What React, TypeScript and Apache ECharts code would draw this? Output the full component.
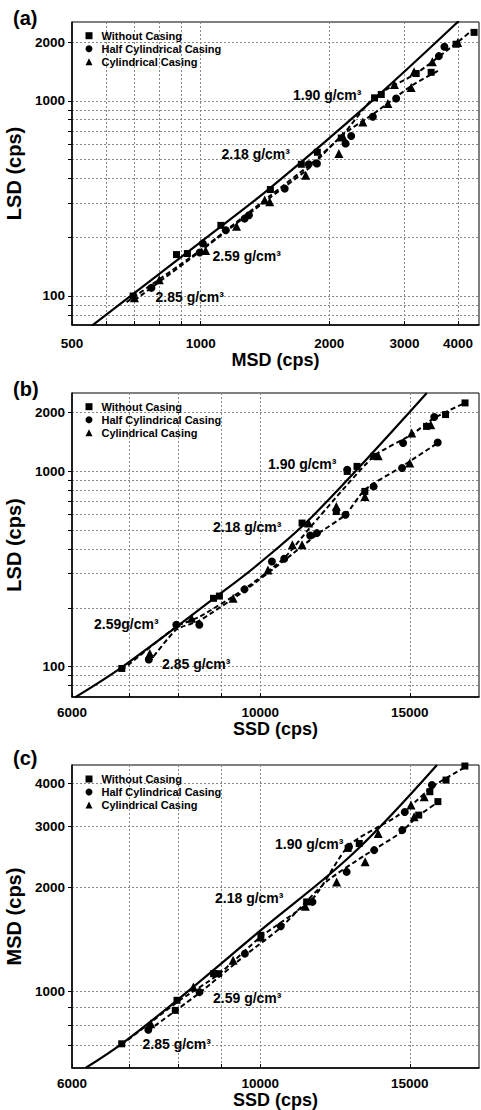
import React, { useEffect, useRef } from "react";
import * as echarts from "echarts";

type Pt = [number, number];

// ---------- Panel (a): LSD vs MSD ----------
const A_WITHOUT: Pt[] = [[695, 100], [878, 163], [931, 165], [1115, 230], [1456, 351], [1720, 473], [1875, 545], [2133, 645], [2552, 1036], [2646, 1078], [3194, 1380], [3462, 1400], [3960, 1950], [4363, 2243]];
const A_HALF: Pt[] = [[767, 110], [995, 167], [1012, 186], [1145, 217], [1267, 249], [1297, 259], [1573, 355], [1790, 473], [1871, 477], [2183, 605], [2250, 660], [2529, 828], [2867, 1028], [3609, 1695], [3718, 1892]];
const A_CYL: Pt[] = [[700, 98], [800, 121], [1027, 171], [1213, 228], [1412, 310], [1451, 304], [1761, 416], [2106, 537], [2150, 660], [2396, 780], [2742, 970], [2840, 1214], [3108, 1171], [3158, 1408], [3484, 1585], [3995, 1992]];
const A_SOLID: Pt[] = [[556, 70.3], [1000, 189], [1451, 356], [2529, 1008], [4017, 2563]];
const A_DASH_UP: Pt[] = [[671, 93], [1000, 172], [1450, 325], [1800, 470], [2150, 670], [2552, 1048], [3195, 1382], [3960, 1970], [4325, 2305]];
const A_DASH_LOW: Pt[] = [[700, 95], [1000, 170], [1450, 318], [1800, 455], [2150, 670], [2552, 865], [3130, 1204], [3622, 1437]];
const A_X_LABELS = [500, 1000, 2000, 3000, 4000];
const A_X_GRID = [500, 600, 700, 800, 900, 1000, 2000, 3000, 4000];
const A_Y_LABELS = [100, 1000, 2000];
const A_Y_GRID = [80, 90, 100, 200, 300, 400, 500, 600, 700, 800, 900, 1000, 2000];

// ---------- Panel (b): LSD vs SSD ----------
const B_WITHOUT: Pt[] = [[6868, 98], [8808, 224], [8950, 230], [11200, 544], [12290, 623], [12660, 1000], [13000, 1061], [13280, 790], [13600, 1194], [15700, 1700], [16530, 1954], [17427, 2242]];
const B_HALF: Pt[] = [[7390, 109], [7962, 164], [8475, 164], [9580, 249], [10320, 346], [10670, 357], [11450, 470], [11660, 483], [12600, 600], [12660, 1020], [13600, 838], [14690, 1041], [14730, 1398], [16030, 1900], [16180, 1405]];
const B_CYL: Pt[] = [[7410, 117], [8300, 177], [9290, 224], [10210, 313], [10910, 421], [11200, 421], [11400, 544], [12290, 661], [13280, 745], [13770, 1203], [15000, 1104], [15080, 1573], [15880, 1735]];
const B_SOLID: Pt[] = [[6049, 69.7], [6899, 100.8], [8929, 233], [9978, 339], [11516, 588], [15710, 2523]];
const B_DASH_UP: Pt[] = [[6868, 96], [7962, 160], [8475, 180], [9580, 250], [10670, 360], [11470, 522], [13600, 1194], [15080, 1543], [16030, 1878], [17427, 2242]];
const B_DASH_LOW: Pt[] = [[7390, 105], [7962, 155], [8475, 172], [9580, 245], [10670, 350], [11723, 483], [12600, 600], [13280, 806], [14690, 1061], [16180, 1398]];
const B_X_LABELS = [6000, 10000, 15000];
const B_X_GRID = [6000, 7000, 8000, 9000, 10000, 15000];
const B_Y_LABELS = [100, 1000, 2000];
const B_Y_GRID = [80, 90, 100, 200, 300, 400, 500, 600, 700, 800, 900, 1000, 2000];

// ---------- Panel (c): MSD vs SSD ----------
const C_WITHOUT: Pt[] = [[6866, 705], [7940, 881], [7977, 942], [8810, 1125], [8930, 1125], [10016, 1453], [11340, 1815], [12690, 2592], [13080, 2679], [15370, 3237], [15840, 3782], [16190, 3541], [16550, 4088], [17420, 4489]];
const C_HALF: Pt[] = [[7380, 774], [8480, 995], [9590, 1286], [10570, 1543], [11520, 1815], [12640, 2217], [12720, 2620], [13620, 2563], [14700, 2929], [14800, 3306], [15930, 3955]];
const C_CYL: Pt[] = [[7430, 806], [8340, 1029], [9290, 1230], [10016, 1437], [11300, 1764], [12300, 2073], [13290, 2372], [13770, 2864], [15050, 3461], [15180, 3201], [15600, 3660]];
const C_SOLID: Pt[] = [[6230, 601], [6866, 705], [7977, 942], [10016, 1503], [12863, 2505], [16150, 4519]];
const C_DASH_UP: Pt[] = [[6866, 700], [7977, 930], [8930, 1120], [10016, 1440], [11520, 1850], [12720, 2648], [14450, 3201], [15310, 3578], [15930, 3909], [17460, 4467]];
const C_DASH_LOW: Pt[] = [[7380, 770], [8480, 990], [9590, 1270], [10570, 1530], [11970, 2080], [13290, 2479], [14590, 2864], [15310, 3201], [16220, 3541]];
const C_X_LABELS = [6000, 10000, 15000];
const C_X_GRID = [6000, 7000, 8000, 9000, 10000, 15000];
const C_Y_LABELS = [1000, 2000, 3000, 4000];
const C_Y_GRID = [700, 800, 900, 1000, 2000, 3000, 4000];

// ---------- Texts ----------
const SERIES_NAMES = ["Without Casing", "Half Cylindrical Casing", "Cylindrical Casing"];
const PANEL_TAGS = ["(a)", "(b)", "(c)"];
const X_NAMES = ["MSD (cps)", "SSD (cps)", "SSD (cps)"];
const Y_NAMES = ["LSD (cps)", "LSD (cps)", "MSD (cps)"];
const A_DENSITY = ["1.90 g/cm³", "2.18 g/cm³", "2.59 g/cm³", "2.85 g/cm³"];
const B_DENSITY = ["1.90 g/cm³", "2.18 g/cm³", "2.59g/cm³", "2.85 g/cm³"];
const C_DENSITY = ["1.90 g/cm³", "2.18 g/cm³", "2.59 g/cm³", "2.85 g/cm³"];

// ---------- Layout / style (not data) ----------
const FONT = "'Liberation Sans', Arial, Helvetica, sans-serif";
const SYMBOLS = ["rect", "circle", "triangle"];
const SYMBOL_SIZES = [7, 8, 9];
const GRIDS = [
  { left: 72, top: 22, width: 407, height: 303 },
  { left: 72, top: 393, width: 407, height: 304 },
  { left: 72, top: 765, width: 407, height: 303 },
];
const X_RANGES: Pt[] = [[500, 4480], [6000, 18100], [6000, 18100]];
const Y_RANGES: Pt[] = [[71, 2535], [70, 2520], [600, 4520]];
const X_LABEL_MARGIN = [11, 8, 8];
const X_NAME_GAP = [24, 22, 19];
const LEGEND_TOPS = [29.7, 400.7, 773];
const TAG_POS: Pt[] = [[13, 17.5], [13, 389], [13, 757.5]];
const DENSITY_POS: Pt[][] = [
  [[293, 94.5], [221.5, 153.5], [212.5, 255.8], [155.5, 296.7]],
  [[268, 464], [213, 527], [94, 624], [162, 664]],
  [[275, 844], [215, 897.5], [213, 997.5], [142.5, 1044]],
];

const PANELS = [
  { scat: [A_WITHOUT, A_HALF, A_CYL], solid: A_SOLID, dash: [A_DASH_UP, A_DASH_LOW], xl: A_X_LABELS, xg: A_X_GRID, yl: A_Y_LABELS, yg: A_Y_GRID, dens: A_DENSITY },
  { scat: [B_WITHOUT, B_HALF, B_CYL], solid: B_SOLID, dash: [B_DASH_UP, B_DASH_LOW], xl: B_X_LABELS, xg: B_X_GRID, yl: B_Y_LABELS, yg: B_Y_GRID, dens: B_DENSITY },
  { scat: [C_WITHOUT, C_HALF, C_CYL], solid: C_SOLID, dash: [C_DASH_UP, C_DASH_LOW], xl: C_X_LABELS, xg: C_X_GRID, yl: C_Y_LABELS, yg: C_Y_GRID, dens: C_DENSITY },
];

const labelStyle = { fontFamily: FONT, fontWeight: "bold" as const, fontSize: 13.5, color: "#000" };

function buildOption(): any {
  const series: any[] = [];
  PANELS.forEach((p, i) => {
    series.push({
      type: "line", xAxisIndex: i, yAxisIndex: i, data: p.solid, symbol: "none", smooth: 0.35,
      lineStyle: { color: "#000", width: 2.2, type: "solid" }, silent: true, z: 2,
    });
    p.dash.forEach((d) => {
      series.push({
        type: "line", xAxisIndex: i, yAxisIndex: i, data: d, symbol: "none", smooth: 0.2,
        lineStyle: { color: "#000", width: 2, type: [5, 3] }, silent: true, z: 2,
      });
    });
    p.scat.forEach((d, k) => {
      series.push({
        type: "scatter", name: SERIES_NAMES[k], xAxisIndex: i, yAxisIndex: i, data: d,
        symbol: SYMBOLS[k], symbolSize: SYMBOL_SIZES[k], itemStyle: { color: "#000", opacity: 1 }, z: 3,
      });
    });
  });

  const graphic: any[] = [];
  PANEL_TAGS.forEach((t, i) => {
    graphic.push({
      type: "text", x: TAG_POS[i][0], y: TAG_POS[i][1], silent: true,
      style: { text: t, fill: "#000", font: `bold 20px ${FONT}`, verticalAlign: "middle", align: "left" },
    });
  });
  PANELS.forEach((p, i) => {
    p.dens.forEach((t, k) => {
      graphic.push({
        type: "text", x: DENSITY_POS[i][k][0], y: DENSITY_POS[i][k][1], silent: true, z: 10,
        style: { text: t, fill: "#000", font: `bold 14px ${FONT}`, verticalAlign: "middle", align: "left" },
      });
    });
  });

  return {
    animation: false,
    backgroundColor: "#fff",
    textStyle: { fontFamily: FONT },
    grid: GRIDS.map((g) => ({ ...g, show: true, borderColor: "#000", borderWidth: 1, backgroundColor: "transparent", containLabel: false, outerBoundsMode: "none" })),
    legend: LEGEND_TOPS.map((top) => ({
      orient: "vertical", left: 85.5, top, itemWidth: 7, itemHeight: 7, itemGap: 1, padding: 0,
      selectedMode: false,
      data: SERIES_NAMES.map((n, k) => ({ name: n, icon: SYMBOLS[k] })),
      textStyle: { fontFamily: FONT, fontWeight: "bold", fontSize: 11, color: "#000", lineHeight: 12, padding: [0, 0, 0, 4] },
    })),
    xAxis: PANELS.map((p, i) => ({
      type: "log", logBase: 10, gridIndex: i, min: X_RANGES[i][0], max: X_RANGES[i][1],
      name: X_NAMES[i], nameLocation: "middle", nameGap: X_NAME_GAP[i],
      nameTextStyle: { fontFamily: FONT, fontWeight: "bold", fontSize: 18, lineHeight: 18, color: "#000" },
      axisLine: { show: true, onZero: false, lineStyle: { color: "#000", width: 1.5 } },
      axisTick: { show: true, inside: true, length: 4, customValues: p.xg, lineStyle: { color: "#000" } },
      axisLabel: { show: true, customValues: p.xl, margin: X_LABEL_MARGIN[i], formatter: (v: number) => String(Math.round(v)), ...labelStyle, hideOverlap: false, showMinLabel: true, showMaxLabel: true },
      splitLine: { show: true, lineStyle: { color: "#888", type: [2, 2], width: 1 } },
      minorTick: { show: false }, minorSplitLine: { show: false },
    })),
    yAxis: PANELS.map((p, i) => ({
      type: "log", logBase: 10, gridIndex: i, min: Y_RANGES[i][0], max: Y_RANGES[i][1],
      name: Y_NAMES[i], nameLocation: "middle", nameGap: 36, nameRotate: 90,
      nameTextStyle: { fontFamily: FONT, fontWeight: "bold", fontSize: 20, lineHeight: 20, color: "#000" },
      axisLine: { show: true, onZero: false, lineStyle: { color: "#000", width: 1.5 } },
      axisTick: { show: true, inside: false, length: 4, customValues: p.yg, lineStyle: { color: "#000" } },
      axisLabel: { show: true, customValues: p.yl, margin: 7, formatter: (v: number) => String(Math.round(v)), ...labelStyle, hideOverlap: false },
      splitLine: { show: true, lineStyle: { color: "#888", type: [2, 2], width: 1 } },
      minorTick: { show: false }, minorSplitLine: { show: false },
    })),
    series,
    graphic,
  };
}

export default function App() {
  const ref = useRef<HTMLDivElement>(null);
  useEffect(() => {
    document.body.style.margin = "0";
    if (!ref.current) return;
    const chart = echarts.init(ref.current, undefined, { renderer: "svg" });
    chart.setOption(buildOption());
    return () => chart.dispose();
  }, []);
  return <div ref={ref} style={{ width: 481, height: 1110, background: "#fff" }} />;
}
